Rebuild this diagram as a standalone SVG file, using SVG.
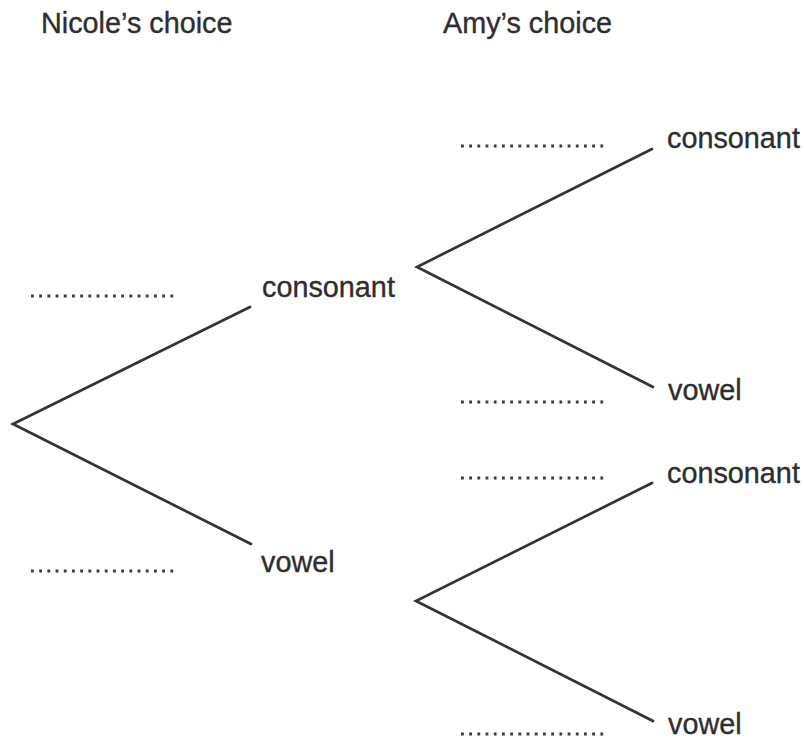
<svg xmlns="http://www.w3.org/2000/svg" width="804" height="739" viewBox="0 0 804 739">
  <style>
    text { font-family: "Liberation Sans", Arial, sans-serif; font-size: 28.8px; fill: #2e2e2e; stroke: #2e2e2e; stroke-width: 0.35; }
    .branch { stroke: #333; stroke-width: 2.7; fill: none; stroke-linecap: round; }
    .blank { stroke: #3a3a3a; stroke-width: 3; stroke-dasharray: 2.8 5.4; fill: none; }
  </style>
  <rect width="804" height="739" fill="#fff"/>

  <!-- column headings -->
  <g id="headings">
    <text x="41" y="33">Nicole’s choice</text>
    <text x="443" y="33">Amy’s choice</text>
  </g>

  <!-- tree branches -->
  <g id="connectors">
    <polyline class="branch" points="250,307 13,424 251,544"/>
    <polyline class="branch" points="652,149 417,267 653,387"/>
    <polyline class="branch" points="652,483 416,601 653,721"/>
  </g>

  <!-- first pick -->
  <g id="n-consonant">
    <text x="262" y="297">consonant</text>
    <line class="blank" x1="31" y1="296" x2="174" y2="296"/>
  </g>
  <g id="n-vowel">
    <text x="261" y="572">vowel</text>
    <line class="blank" x1="31" y1="571" x2="174" y2="571"/>
  </g>

  <!-- second pick after consonant -->
  <g id="cc">
    <text x="667" y="148">consonant</text>
    <line class="blank" x1="461" y1="146" x2="604" y2="146"/>
  </g>
  <g id="cv">
    <text x="668" y="400">vowel</text>
    <line class="blank" x1="461" y1="402" x2="604" y2="402"/>
  </g>

  <!-- second pick after vowel -->
  <g id="vc">
    <text x="667" y="483">consonant</text>
    <line class="blank" x1="461" y1="478" x2="604" y2="478"/>
  </g>
  <g id="vv">
    <text x="668" y="734">vowel</text>
    <line class="blank" x1="461" y1="734" x2="604" y2="734"/>
  </g>
</svg>
